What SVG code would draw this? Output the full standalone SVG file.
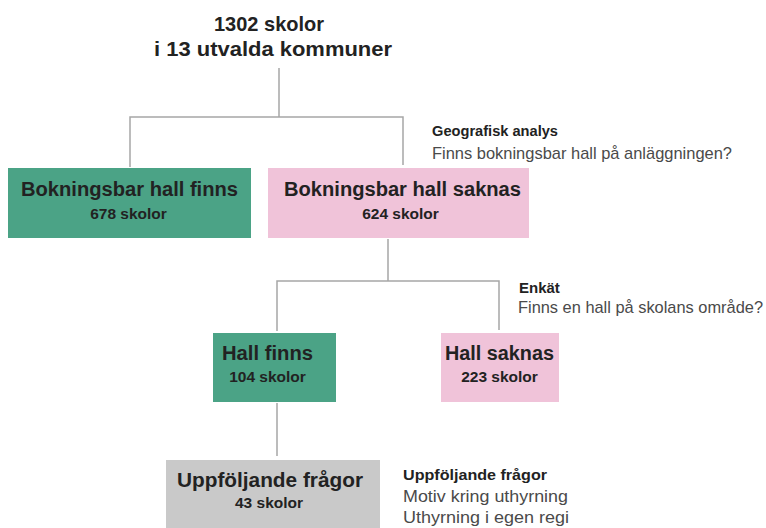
<svg xmlns="http://www.w3.org/2000/svg" width="766" height="528" viewBox="0 0 766 528">
<style>
.t{font-family:"Liberation Sans",Arial,sans-serif;fill:#222;}
.h{font-size:20px;font-weight:bold;text-anchor:middle;}
.ti{font-size:21px;font-weight:bold;text-anchor:middle;}
.s{font-size:15.5px;font-weight:bold;text-anchor:middle;}
.lb{font-size:15px;font-weight:bold;}
.lr{font-size:16.4px;fill:#4a4a4a;}
.g{fill:#4ba386;}
.p{fill:#f0c3d9;}
.y{fill:#c9c9c9;}
.c{fill:none;stroke:#a6a6a6;stroke-width:1.5;}
</style>
<g id="connectors">
<path class="c" d="M279 68V117M130 167V117H403V165"/>
<path class="c" d="M388 239V281M277 331V281H499V330"/>
<path class="c" d="M277 403V456"/>
</g>
<g id="root">
<text class="t ti" x="269" y="31" textLength="110" lengthAdjust="spacingAndGlyphs">1302 skolor</text>
<text class="t ti" x="273" y="56" textLength="238" lengthAdjust="spacingAndGlyphs">i 13 utvalda kommuner</text>
</g>
<g id="node-bokningsbar-finns">
<rect class="g" x="8" y="168" width="243" height="70"/>
<text class="t h" x="129.5" y="196" textLength="217" lengthAdjust="spacingAndGlyphs">Bokningsbar hall finns</text>
<text class="t s" x="128.5" y="219">678 skolor</text>
</g>
<g id="node-bokningsbar-saknas">
<rect class="p" x="268" y="168" width="261" height="70"/>
<text class="t h" x="402.5" y="196" textLength="237" lengthAdjust="spacingAndGlyphs">Bokningsbar hall saknas</text>
<text class="t s" x="400.5" y="219">624 skolor</text>
</g>
<g id="label-geografisk">
<text class="t lb" x="432" y="136" textLength="126" lengthAdjust="spacingAndGlyphs">Geografisk analys</text>
<text class="t lr" x="432" y="159" textLength="300" lengthAdjust="spacingAndGlyphs">Finns bokningsbar hall på anläggningen?</text>
</g>
<g id="node-hall-finns">
<rect class="g" x="213" y="333" width="123" height="69"/>
<text class="t h" x="267.5" y="360" textLength="91" lengthAdjust="spacingAndGlyphs">Hall finns</text>
<text class="t s" x="267.5" y="382">104 skolor</text>
</g>
<g id="node-hall-saknas">
<rect class="p" x="441" y="333" width="118" height="69"/>
<text class="t h" x="499.5" y="360" textLength="109" lengthAdjust="spacingAndGlyphs">Hall saknas</text>
<text class="t s" x="499.5" y="382">223 skolor</text>
</g>
<g id="label-enkat">
<text class="t lb" x="519" y="293">Enkät</text>
<text class="t lr" x="518" y="313" textLength="245" lengthAdjust="spacingAndGlyphs">Finns en hall på skolans område?</text>
</g>
<g id="node-uppfoljande">
<rect class="y" x="166" y="460" width="214" height="68"/>
<text class="t h" x="270" y="487" textLength="186" lengthAdjust="spacingAndGlyphs">Uppföljande frågor</text>
<text class="t s" x="269" y="508">43 skolor</text>
</g>
<g id="label-uppfoljande">
<text class="t lb" x="403" y="480" textLength="144" lengthAdjust="spacingAndGlyphs">Uppföljande frågor</text>
<text class="t lr" x="403" y="502" textLength="165" lengthAdjust="spacingAndGlyphs">Motiv kring uthyrning</text>
<text class="t lr" x="403" y="523" textLength="166" lengthAdjust="spacingAndGlyphs">Uthyrning i egen regi</text>
</g>
</svg>
